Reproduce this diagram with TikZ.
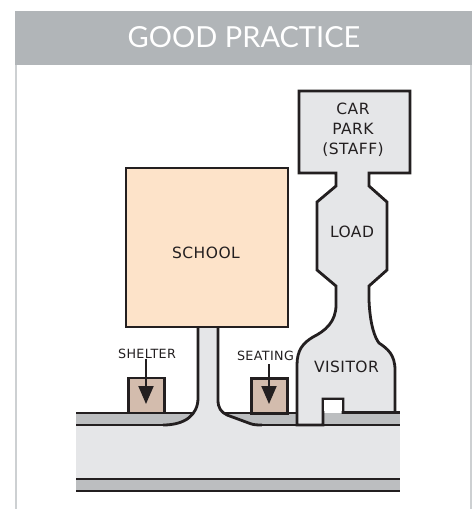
\documentclass[tikz,border=0pt]{standalone}
\usepackage{fontspec}
\setmainfont[LetterSpace=3]{DejaVu Sans}
\newfontfamily\headfont{Lato}
\usepackage{xcolor}
\usetikzlibrary{arrows.meta,positioning}
\definecolor{MapInk}{HTML}{231F20}
\definecolor{MapRoad}{HTML}{E5E6E8}
\definecolor{MapKerb}{HTML}{BCBEC0}
\definecolor{MapSchool}{HTML}{FDE3C9}
\definecolor{MapBox}{HTML}{D3BCAD}
\definecolor{MapHead}{HTML}{B1B5B8}
\definecolor{MapFrame}{HTML}{CDD0D2}
\tikzset{
  headbar/.style={fill=MapHead,draw=none,minimum width=457pt,minimum height=54pt,inner sep=0pt},
  headtext/.style={text=white,font=\headfont\fontsize{29}{31}\selectfont,inner sep=0pt},
  maplabel/.style={text=MapInk,font=\fontsize{15.5}{20}\selectfont,align=center,inner sep=0pt},
  smalllabel/.style={text=MapInk,font=\fontsize{12.7}{15}\selectfont,inner sep=0pt},
  schoolbox/.style={draw=MapInk,line width=2.8pt,fill=MapSchool,minimum width=162pt,minimum height=159pt,inner sep=0pt},
  shedbox/.style={draw=MapInk,line width=2.8pt,fill=MapBox,minimum width=36pt,minimum height=35pt,inner sep=0pt},
  kerbline/.style={draw=MapInk,line width=2.8pt},
  roadshape/.style={draw=MapInk,line width=2.8pt,fill=MapRoad,line join=miter},
  pointarrow/.style={-{Triangle[length=18pt,width=15pt]},line width=2pt,draw=MapInk}
}
\begin{document}
\begin{tikzpicture}[x=1pt,y=-1pt]
\useasboundingbox (0,0) rectangle (474,509);
% panel
\draw[MapFrame,line width=2pt] (16,60) -- (16,509);
\draw[MapFrame,line width=2pt] (471,60) -- (471,509);
\node[headbar] (head) at (243.5,38) {};
\node[headtext] (title) at (244,37) {GOOD PRACTICE};
% road and kerbs
\fill[MapKerb] (76,413) rectangle (400,491);
\fill[MapRoad] (76,425) rectangle (400,479);
\draw[kerbline] (76,413) -- (200,413);
\draw[kerbline] (76,479) -- (400,479);
\draw[kerbline] (76,491) -- (400,491);
\draw[kerbline] (225,413) -- (297,413);
\draw[kerbline] (76,425) -- (163,425);
\draw[kerbline] (262,425) -- (400,425);
\draw[kerbline] (394,412.5) -- (400,412.5);
% sheds
\node[shedbox] (shelter) at (146.5,395.5) {};
\node[shedbox] (seating) at (269.5,396) {};
% school drive
\fill[MapRoad] (198,322) -- (218,322) -- (218,400)
  .. controls (218,408) and (221,412) .. (227,415)
  -- (257,426) -- (262,426) -- (262,430) -- (163,430) -- (163,426)
  .. controls (185,426) and (198,415) .. (198,400) -- cycle;
\draw[kerbline] (198,327) -- (198,398)
  .. controls (198,415) and (185,425) .. (163,425);
\draw[kerbline] (218,327) -- (218,400)
  .. controls (218,408) and (221,412) .. (227,415)
  -- (250,423.5) .. controls (254,425) and (258,425) .. (262,425);
\node[schoolbox] (school) at (207,247.5) {};
% car park, load and visitor area
\draw[roadshape] (297,425) -- (297,365)
  .. controls (297,350) and (303,343) .. (313,337)
  .. controls (325,331) and (336,322) .. (336,305)
  -- (336,286) -- (317,270) -- (317,202) -- (336,186) -- (336,173)
  -- (299,173) -- (299,91) -- (410,91) -- (410,173) -- (369,173)
  -- (369,186) -- (387,202) -- (387,270) -- (369,286) -- (369,300)
  .. controls (370,325) and (375,338) .. (379,343)
  .. controls (388,349) and (395,355) .. (395,370)
  -- (395,412.5) -- (343,412.5) -- (343,399) -- (323,399) -- (323,425) -- cycle;
\fill[white] (324.4,400.4) rectangle (341.6,411);
% labels
\node[maplabel] (schoollbl) at (206,253) {SCHOOL};
\node[maplabel] (carpark) at (353,130) {CAR\\PARK\\(STAFF)};
\node[maplabel] (load) at (352,232) {LOAD};
\node[maplabel] (visitor) at (346.5,367) {VISITOR};
\node[smalllabel] (shelterlbl) at (147,353.5) {SHELTER};
\node[smalllabel] (seatinglbl) at (265.5,356) {SEATING};
% arrows
\coordinate (shelterend) at (146,404);
\coordinate (seatingtop) at (269,364);
\coordinate (seatingend) at (269,404);
\draw[pointarrow] (shelterlbl.south -| shelterend) -- (shelterend);
\draw[pointarrow] (seatingtop) -- (seatingend);
\end{tikzpicture}
\end{document}
